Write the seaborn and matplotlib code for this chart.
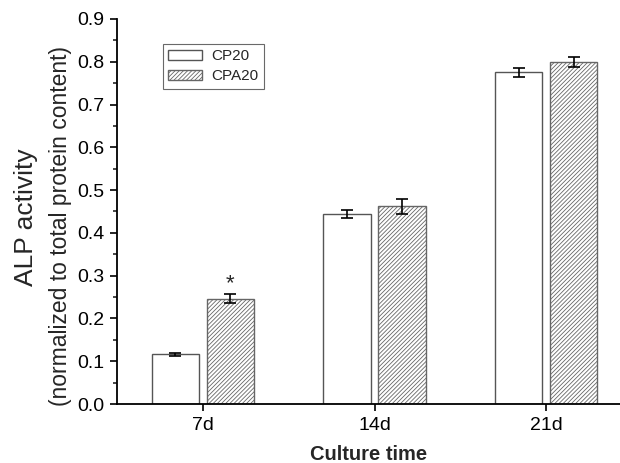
import pandas as pd
import matplotlib
matplotlib.use('Agg')
import matplotlib.pyplot as plt
import matplotlib.patches as mpatches
from matplotlib.ticker import MultipleLocator, FormatStrFormatter
import seaborn as sns

# Values
days = ['7d', '14d', '21d']
groups = ['CP20', 'CPA20']
cp20_mean = [0.116, 0.444, 0.775]
cp20_err = [0.004, 0.009, 0.010]
cpa20_mean = [0.246, 0.462, 0.799]
cpa20_err = [0.011, 0.017, 0.011]

df = pd.DataFrame({
    'Day': days * 2,
    'Group': ['CP20'] * 3 + ['CPA20'] * 3,
    'ALP': cp20_mean + cpa20_mean,
    'Err': cp20_err + cpa20_err,
})

sns.set_style('ticks')
plt.rcParams['font.family'] = ['Liberation Sans', 'DejaVu Sans']
plt.rcParams['hatch.linewidth'] = 0.6

fig = plt.figure(figsize=(6.2, 4.63), dpi=100)
ax = fig.add_axes([0.1887, 0.1274, 0.8113, 0.8316])

sns.barplot(data=df, x='Day', y='ALP', hue='Group', order=days, hue_order=groups,
            palette=['white', 'white'], edgecolor='#555555', linewidth=1.0,
            width=0.64, gap=0.14, errorbar=None, legend=False, ax=ax)

# hatch the CPA20 bars and add the error bars at the bar centers
bars = ax.patches[:6]
for i, bar in enumerate(bars):
    if df['Group'].iloc[i] == 'CPA20':
        bar.set_hatch('////////')
        bar.set_edgecolor('#666666')
    xc = bar.get_x() + bar.get_width() / 2
    ax.errorbar(xc, df['ALP'].iloc[i], yerr=df['Err'].iloc[i], fmt='none',
                ecolor='black', elinewidth=1.2, capsize=4, capthick=1.2)

# significance mark above 7d CPA20
b = bars[3]
ax.text(b.get_x() + b.get_width() / 2, df['ALP'].iloc[3] + df['Err'].iloc[3] + 0.024, '*',
        ha='center', va='center', fontsize=16)

ax.set_ylim(0, 0.9)
ax.set_xlim(-0.5, 2.43)
ax.yaxis.set_major_locator(MultipleLocator(0.1))
ax.yaxis.set_minor_locator(MultipleLocator(0.05))
ax.yaxis.set_major_formatter(FormatStrFormatter('%.1f'))
ax.tick_params(axis='both', which='major', direction='out', length=5, width=1.2,
               labelsize=14, colors='black', pad=4)
ax.tick_params(axis='y', which='minor', direction='out', length=3, width=1.2)
sns.despine(ax=ax)
for s in ['left', 'bottom']:
    ax.spines[s].set_color('black')
    ax.spines[s].set_linewidth(1.3)

ax.set_xlabel('Culture time', fontsize=14.5, fontweight='bold', labelpad=8)
ax.set_ylabel('')
fig.text(0.042, 0.531, 'ALP activity', rotation=90, ha='center', va='center', fontsize=19)
fig.text(0.098, 0.511, '(normalized to total protein content)', rotation=90,
         ha='center', va='center', fontsize=16.5)

handles = [mpatches.Patch(facecolor='white', edgecolor='#555555', label='CP20'),
           mpatches.Patch(facecolor='white', edgecolor='#666666', hatch='////////', label='CPA20')]
leg = ax.legend(handles=handles, loc='upper left', bbox_to_anchor=(0.091, 0.935),
                borderaxespad=0, fontsize=11, frameon=True, fancybox=False,
                handlelength=2.2, handleheight=0.7, handletextpad=0.65,
                borderpad=0.35, labelspacing=0.4)
leg.get_frame().set_edgecolor('#444444')
leg.get_frame().set_linewidth(0.8)

fig.savefig('out.png', dpi=100)
